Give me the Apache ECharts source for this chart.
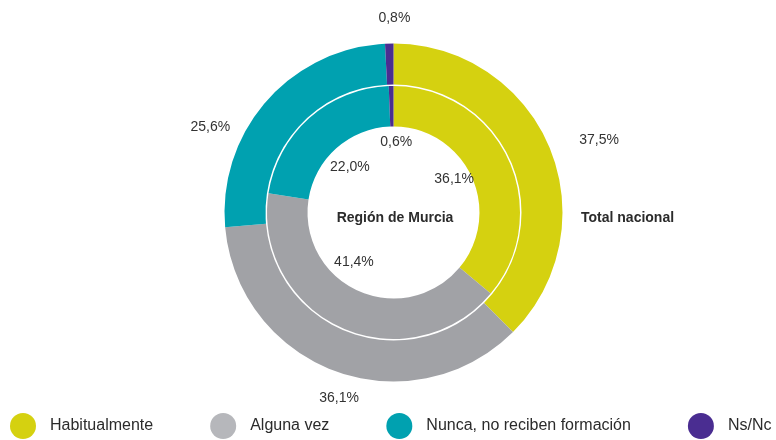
<!DOCTYPE html>
<html>
<head>
<meta charset="utf-8">
<script src="https://cdn.jsdelivr.net/npm/echarts@6/dist/echarts.min.js"></script>
<style>html,body{margin:0;padding:0;background:#fff}#c{width:776px;height:440px}</style>
</head>
<body>
<div id="c"></div>
<script>
const categories = ['Habitualmente', 'Alguna vez', 'Nunca, no reciben formación', 'Ns/Nc'];
const totalNacional = [37.5, 36.1, 25.6, 0.8];
const regionMurcia = [36.1, 41.4, 22.0, 0.6];
const outerName = 'Total nacional';
const innerName = 'Región de Murcia';

const colors = ['#d5d110', '#a1a2a6', '#00a1b0', '#4a2d91'];
const legendColors = ['#d5d110', '#b6b7bb', '#00a1b0', '#4a2d91'];
const FONT = '"Liberation Sans", Arial, sans-serif';
const cx = 393.5, cy = 212.5;
// label tuning offsets (layout only)
const outerLabelShift = [[18, 5], [15, -5], [-30, 48], [6, 9]];
const innerLabelShift = [[0, -5], [-12, -11], [1, 5], [4, -3]];

const fmt = p => p.value.toFixed(1).replace('.', ',') + '%';
const mk = vals => vals.map((v, i) => ({ name: categories[i], value: v }));

const chart = echarts.init(document.getElementById('c'), null, { renderer: 'canvas' });
chart.setOption({
  color: colors,
  animation: false,
  title: [
    { text: innerName, left: 390, top: 213, textAlign: 'center', textVerticalAlign: 'middle',
      textStyle: { fontFamily: FONT, fontWeight: 'bold', fontSize: 14, color: '#2b2b2b' } },
    { text: outerName, left: 576, top: 213, textVerticalAlign: 'middle',
      textStyle: { fontFamily: FONT, fontWeight: 'bold', fontSize: 14, color: '#2b2b2b' } }
  ],
  legend: {
    left: 10, top: 413, padding: 0,
    icon: 'circle', itemWidth: 26, itemHeight: 26, itemGap: 57,
    selectedMode: false,
    data: categories.map((c, i) => ({ name: c, itemStyle: { color: legendColors[i] } })),
    textStyle: { fontFamily: FONT, fontSize: 16, color: '#2b2b2b', padding: [0, 0, 0, 9] }
  },
  series: [
    { type: 'pie', name: outerName, center: [cx, cy], radius: [128, 169], startAngle: 90, clockwise: true,
      silent: true, label: { show: false }, labelLine: { show: false }, data: mk(totalNacional) },
    { type: 'pie', name: innerName, center: [cx, cy], radius: [86, 126.5], startAngle: 90, clockwise: true,
      silent: true, label: { show: false }, labelLine: { show: false }, data: mk(regionMurcia) },
    { type: 'pie', name: outerName + ' labels', center: [cx, cy], radius: [0, 400], startAngle: 90,
      silent: true, itemStyle: { color: 'rgba(0,0,0,0)' }, emphasis: { disabled: true },
      label: { show: true, position: 'inside', formatter: fmt, fontFamily: FONT, fontSize: 14, color: '#333' },
      labelLayout: p => ({ dx: outerLabelShift[p.dataIndex][0], dy: outerLabelShift[p.dataIndex][1] }),
      data: mk(totalNacional) },
    { type: 'pie', name: innerName + ' labels', center: [cx, cy], radius: [0, 128], startAngle: 90,
      silent: true, itemStyle: { color: 'rgba(0,0,0,0)' }, emphasis: { disabled: true },
      label: { show: true, position: 'inside', formatter: fmt, fontFamily: FONT, fontSize: 14, color: '#333' },
      labelLayout: p => ({ dx: innerLabelShift[p.dataIndex][0], dy: innerLabelShift[p.dataIndex][1] }),
      data: mk(regionMurcia) }
  ]
});
</script>
</body>
</html>
